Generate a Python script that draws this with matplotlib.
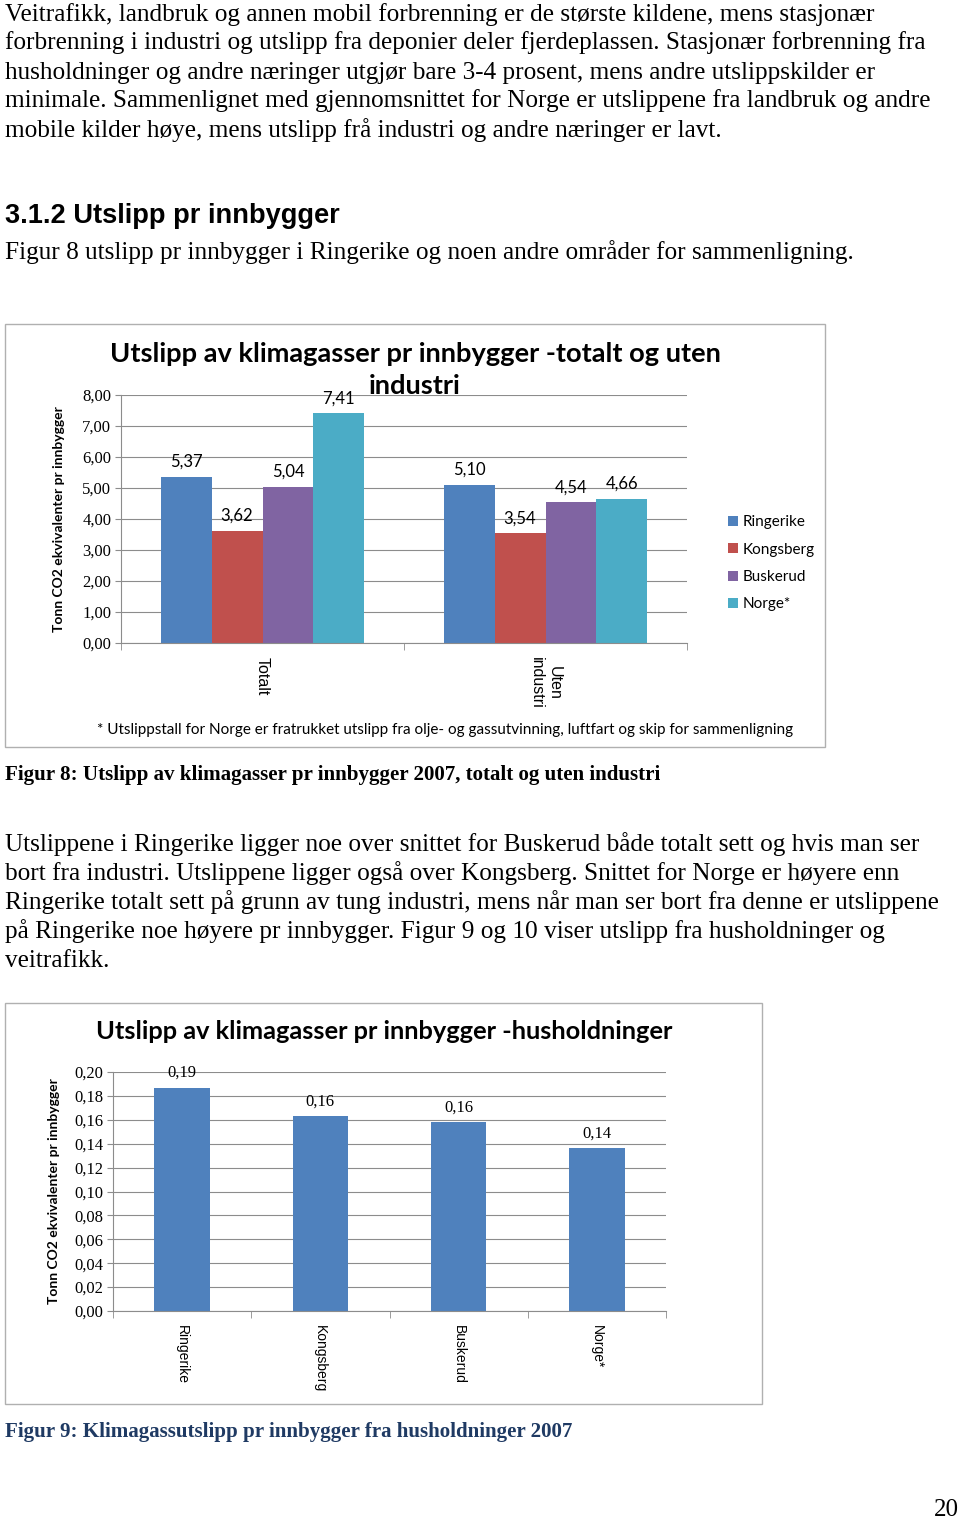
import matplotlib
matplotlib.use("Agg")
import matplotlib.pyplot as plt
from matplotlib.patches import Rectangle

# ------------------------------------------------------------------ data
GROUPS = ["Totalt", "Uten\nindustri"]
REGIONS = ["Ringerike", "Kongsberg", "Buskerud", "Norge*"]
COLORS = ["#4F81BD", "#C0504D", "#8064A2", "#4BACC6"]
RINGERIKE = [5.37, 5.10]
KONGSBERG = [3.62, 3.54]
BUSKERUD = [5.04, 4.54]
NORGE = [7.41, 4.66]
TOTAL_TICKS = [0, 1, 2, 3, 4, 5, 6, 7, 8]

HH_REGIONS = ["Ringerike", "Kongsberg", "Buskerud", "Norge*"]
HH_VALUES = [0.187, 0.163, 0.158, 0.136]
HH_TICKS = [0.00, 0.02, 0.04, 0.06, 0.08, 0.10, 0.12, 0.14, 0.16, 0.18, 0.20]

PARA1 = [
    "Veitrafikk, landbruk og annen mobil forbrenning er de største kildene, mens stasjonær",
    "forbrenning i industri og utslipp fra deponier deler fjerdeplassen. Stasjonær forbrenning fra",
    "husholdninger og andre næringer utgjør bare 3-4 prosent, mens andre utslippskilder er",
    "minimale. Sammenlignet med gjennomsnittet for Norge er utslippene fra landbruk og andre",
    "mobile kilder høye, mens utslipp frå industri og andre næringer er lavt.",
]
PARA2 = [
    "Utslippene i Ringerike ligger noe over snittet for Buskerud både totalt sett og hvis man ser",
    "bort fra industri. Utslippene ligger også over Kongsberg. Snittet for Norge er høyere enn",
    "Ringerike totalt sett på grunn av tung industri, mens når man ser bort fra denne er utslippene",
    "på Ringerike noe høyere pr innbygger. Figur 9 og 10 viser utslipp fra husholdninger og",
    "veitrafikk.",
]

W, H = 960, 1518
SERIF = "Liberation Serif"
SANS = "Liberation Sans"
CHART = "Lato"
GRID = "#8c8c8c"

fig = plt.figure(figsize=(W / 100, H / 100), dpi=100)
fig.patch.set_facecolor("white")


def txt(x, y, s, **kw):
    kw.setdefault("va", "baseline")
    return fig.text(x / W, 1 - y / H, s, **kw)


def box(x0, y0, x1, y1):
    fig.patches.append(Rectangle((x0 / W, 1 - y1 / H), (x1 - x0) / W, (y1 - y0) / H,
                                 transform=fig.transFigure, fill=False,
                                 edgecolor="#b0b0b0", lw=1.0))


def axes_px(x0, y0, x1, y1):
    return fig.add_axes([x0 / W, 1 - y1 / H, (x1 - x0) / W, (y1 - y0) / H])


def style_axes(ax, ticks, fmt):
    ax.set_yticks(ticks)
    ax.set_yticklabels([fmt.format(t).replace(".", ",") for t in ticks],
                       family=SERIF, fontsize=12)
    ax.set_ylim(ticks[0], ticks[-1])
    ax.yaxis.grid(True, color=GRID, lw=0.8)
    ax.set_axisbelow(True)
    for s in ["top", "right"]:
        ax.spines[s].set_visible(False)
    ax.spines["left"].set_color(GRID)
    ax.spines["bottom"].set_color(GRID)
    ax.tick_params(axis="y", length=4, color=GRID, pad=3)
    ax.tick_params(axis="x", which="major", length=0, pad=10)
    ax.tick_params(axis="x", which="minor", length=5, color=GRID)


# ------------------------------------------------------------------ page text
for i, line in enumerate(PARA1):
    txt(5, 20.5 + 29 * i, line, family=SERIF, fontsize=18.2)
txt(5, 223, "3.1.2 Utslipp pr innbygger", family=SANS, fontsize=19.6, weight="bold")
txt(5, 259, "Figur 8 utslipp pr innbygger i Ringerike og noen andre områder for sammenligning.",
    family=SERIF, fontsize=18.2)
txt(5, 780, "Figur 8: Utslipp av klimagasser pr innbygger 2007, totalt og uten industri",
    family=SERIF, fontsize=15.1, weight="bold")
for i, line in enumerate(PARA2):
    txt(5, 851 + 29 * i, line, family=SERIF, fontsize=18.2)
txt(5, 1437, "Figur 9: Klimagassutslipp pr innbygger fra husholdninger 2007",
    family=SERIF, fontsize=15.1, weight="bold", color="#1F3A63")
txt(959, 1516, "20", family=SERIF, fontsize=18, ha="right")

# ------------------------------------------------------------------ chart 1
box(5, 324, 825, 747)
txt(415, 362, "Utslipp av klimagasser pr innbygger -totalt og uten",
    family=CHART, fontsize=19.6, weight="bold", ha="center")
txt(415, 394, "industri", family=CHART, fontsize=19.6, weight="bold", ha="center")

ax1 = axes_px(121, 395, 687, 643)
series = [RINGERIKE, KONGSBERG, BUSKERUD, NORGE]
bw = 0.18
bars = []
for k, (vals, col) in enumerate(zip(series, COLORS)):
    xs = [g + (k - 1.5) * bw for g in range(len(GROUPS))]
    b = ax1.bar(xs, vals, width=bw, color=col, label=REGIONS[k])
    bars.append(b)
    for x, v in zip(xs, vals):
        ax1.annotate(f"{v:.2f}".replace(".", ","), (x, v), xytext=(0, 5),
                     textcoords="offset points", ha="center", va="bottom",
                     family=CHART, fontsize=12)
style_axes(ax1, TOTAL_TICKS, "{:.2f}")
ax1.set_xlim(-0.5, len(GROUPS) - 0.5)
ax1.set_xticks(range(len(GROUPS)))
ax1.set_xticklabels(GROUPS, rotation=270, family=SANS, fontsize=11.5,
                    va="top", ha="center", multialignment="center")
ax1.set_xticks([i - 0.5 for i in range(len(GROUPS) + 1)], minor=True)
ax1.set_ylabel("Tonn CO2 ekvivalenter pr innbygger", family=CHART, weight="bold",
               fontsize=10)
ax1.yaxis.set_label_coords((65 - 121) / 566, 0.5)
fig.legend(handles=bars, labels=REGIONS, loc="upper left",
           bbox_to_anchor=(722 / W, 1 - 509 / H), frameon=False,
           prop={"family": CHART, "size": 11}, handlelength=0.65, handleheight=0.65,
           handletextpad=0.3, labelspacing=0.88, borderaxespad=0)
txt(445, 734, "* Utslippstall for Norge er fratrukket utslipp fra olje- og gassutvinning, "
    "luftfart og skip for sammenligning", family=CHART, fontsize=11, ha="center")

# ------------------------------------------------------------------ chart 2
box(5, 1003, 762, 1404)
txt(384, 1039, "Utslipp av klimagasser pr innbygger -husholdninger",
    family=CHART, fontsize=18.3, weight="bold", ha="center")

ax2 = axes_px(113, 1072, 666, 1311)
xs = range(len(HH_REGIONS))
ax2.bar(xs, HH_VALUES, width=0.4, color=COLORS[0])
for x, v in zip(xs, HH_VALUES):
    ax2.annotate(f"{v:.2f}".replace(".", ","), (x, v), xytext=(0, 5),
                 textcoords="offset points", ha="center", va="bottom",
                 family=SERIF, fontsize=12)
style_axes(ax2, HH_TICKS, "{:.2f}")
ax2.set_xlim(-0.5, len(HH_REGIONS) - 0.5)
ax2.set_xticks(list(xs))
ax2.set_xticklabels(HH_REGIONS, rotation=270, family=SANS, fontsize=10,
                    va="top", ha="center")
ax2.set_xticks([i - 0.5 for i in range(len(HH_REGIONS) + 1)], minor=True)
ax2.set_ylabel("Tonn CO2 ekvivalenter pr innbygger", family=CHART, weight="bold",
               fontsize=10)
ax2.yaxis.set_label_coords((60 - 113) / 553, 0.5)

fig.savefig("out.png", dpi=100, facecolor="white")
